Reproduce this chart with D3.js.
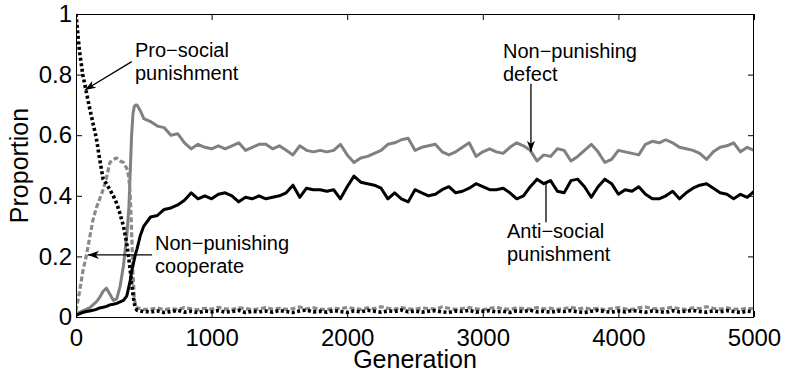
<!DOCTYPE html>
<html>
<head>
<meta charset="utf-8">
<script src="https://cdn.jsdelivr.net/npm/d3@7"></script>
<style>
body { margin: 0; background: #fff; }
svg text { font-family: "Liberation Sans", Arial, Helvetica, sans-serif; fill: #000; }
</style>
</head>
<body>
<svg width="785" height="374"></svg>
<script>
// sample generations (denser where the populations switch)
var generations = [0,25,50,75,100,125,150,175,200,225,250,275,300,325,350,375,390,400,410,420,430,440,450,475,500,
  550,600,650,700,750,800,850,900,950,1000,1050,1100,1150,1200,1250,1300,1350,1400,1450,1500,
  1550,1600,1650,1700,1750,1800,1850,1900,1950,2000,2050,2100,2150,2200,2250,2300,2350,2400,2450,2500,
  2550,2600,2650,2700,2750,2800,2850,2900,2950,3000,3050,3100,3150,3200,3250,3300,3350,3400,3450,3500,
  3550,3600,3650,3700,3750,3800,3850,3900,3950,4000,4050,4100,4150,4200,4250,4300,4350,4400,4450,4500,
  4550,4600,4650,4700,4750,4800,4850,4900,4950,5000];

var proSocial = [1.00,0.88,0.80,0.745,0.69,0.64,0.59,0.52,0.455,0.44,0.42,0.40,0.375,0.34,0.30,0.24,0.19,0.155,0.11,0.075,0.045,0.03,0.022,0.02,0.018,
  0.017,0.02,0.015,0.018,0.022,0.016,0.019,0.014,0.02,0.017,
  0.021,0.016,0.018,0.022,0.015,0.019,0.017,0.02,0.016,0.021,
  0.018,0.015,0.02,0.023,0.017,0.019,0.016,0.021,0.018,0.015,
  0.02,0.017,0.022,0.019,0.016,0.02,0.018,0.023,0.017,0.02,
  0.016,0.019,0.021,0.017,0.015,0.02,0.018,0.022,0.016,0.019,
  0.021,0.017,0.019,0.015,0.02,0.018,0.022,0.017,0.019,0.016,
  0.02,0.018,0.021,0.017,0.015,0.019,0.022,0.018,0.016,0.02,
  0.017,0.021,0.019,0.016,0.02,0.018,0.015,0.021,0.017,0.019,
  0.022,0.018,0.016,0.02,0.017,0.021,0.018,0.015,0.019,0.017];

var nonPunCooperate = [0.02,0.08,0.15,0.20,0.26,0.32,0.36,0.39,0.42,0.46,0.51,0.52,0.525,0.515,0.51,0.49,0.46,0.40,0.28,0.15,0.06,0.035,0.03,0.028,0.025,
  0.026,0.03,0.024,0.028,0.025,0.031,0.027,0.024,0.029,0.026,
  0.032,0.027,0.025,0.03,0.028,0.024,0.027,0.031,0.026,0.029,
  0.025,0.028,0.033,0.027,0.03,0.026,0.024,0.029,0.027,0.032,
  0.028,0.025,0.03,0.027,0.034,0.029,0.026,0.031,0.027,0.025,
  0.03,0.028,0.026,0.033,0.029,0.025,0.028,0.031,0.027,0.024,
  0.029,0.032,0.027,0.025,0.03,0.028,0.026,0.031,0.027,0.029,
  0.025,0.028,0.032,0.027,0.03,0.026,0.029,0.024,0.028,0.031,
  0.027,0.025,0.03,0.033,0.028,0.026,0.029,0.032,0.027,0.025,
  0.03,0.028,0.034,0.029,0.026,0.03,0.027,0.025,0.029,0.027];

var nonPunDefect = [0.01,0.015,0.02,0.025,0.03,0.04,0.05,0.065,0.085,0.095,0.075,0.055,0.06,0.10,0.17,0.27,0.36,0.48,0.60,0.67,0.695,0.70,0.70,0.68,0.655,
  0.645,0.63,0.625,0.60,0.605,0.575,0.555,0.57,0.56,0.555,
  0.565,0.555,0.565,0.575,0.55,0.56,0.57,0.57,0.555,0.565,
  0.55,0.535,0.565,0.55,0.545,0.55,0.545,0.55,0.57,0.535,
  0.51,0.525,0.53,0.54,0.55,0.57,0.575,0.585,0.59,0.55,
  0.56,0.565,0.57,0.545,0.535,0.545,0.56,0.575,0.53,0.545,
  0.555,0.545,0.54,0.56,0.575,0.565,0.55,0.515,0.535,0.53,
  0.555,0.55,0.515,0.53,0.55,0.57,0.545,0.51,0.52,0.55,
  0.545,0.54,0.535,0.57,0.58,0.575,0.585,0.575,0.56,0.555,
  0.55,0.54,0.52,0.545,0.56,0.565,0.575,0.545,0.56,0.55];

var antiSocial = [0.005,0.01,0.015,0.018,0.02,0.022,0.025,0.03,0.032,0.035,0.04,0.042,0.045,0.05,0.055,0.07,0.10,0.12,0.15,0.17,0.19,0.21,0.225,0.27,0.30,
  0.33,0.335,0.355,0.36,0.37,0.385,0.41,0.39,0.40,0.39,
  0.405,0.41,0.40,0.38,0.395,0.39,0.40,0.39,0.395,0.40,
  0.41,0.435,0.395,0.425,0.42,0.42,0.415,0.42,0.39,0.43,
  0.465,0.445,0.44,0.435,0.425,0.39,0.41,0.39,0.38,0.42,
  0.41,0.40,0.405,0.42,0.43,0.41,0.415,0.425,0.44,0.43,
  0.42,0.42,0.425,0.41,0.39,0.40,0.43,0.455,0.44,0.45,
  0.415,0.41,0.45,0.455,0.43,0.395,0.43,0.455,0.44,0.405,
  0.42,0.415,0.43,0.405,0.39,0.39,0.40,0.415,0.39,0.41,
  0.425,0.435,0.44,0.425,0.41,0.405,0.39,0.405,0.395,0.415];

var xTicks = [0,1000,2000,3000,4000,5000];
var yTicks = [0,0.2,0.4,0.6,0.8,1];

var svg = d3.select("svg"),
    pLeft = 76, pRight = 754, pTop = 14, pBottom = 317;

var x = d3.scaleLinear().domain([0,5000]).range([pLeft,pRight]);
var y = d3.scaleLinear().domain([0,1]).range([pBottom,pTop]);

var defs = svg.append("defs");
defs.append("clipPath").attr("id","plotclip")
  .append("rect").attr("x",pLeft).attr("y",pTop-2).attr("width",pRight-pLeft).attr("height",pBottom-pTop+2);

defs.append("marker")
  .attr("id","head")
  .attr("markerUnits","userSpaceOnUse")
  .attr("markerWidth",11).attr("markerHeight",8)
  .attr("refX",11).attr("refY",4)
  .attr("orient","auto")
  .append("path").attr("d","M0,0 L11,4 L0,8 L3,4 z").attr("fill","#000");

var line = d3.line()
  .x(function(d,i){ return x(generations[i]); })
  .y(function(d){ return y(d); });

// draw order: gray first, black on top
var series = [
  {values: nonPunDefect, color: "#808080", dash: null, width: 3},
  {values: nonPunCooperate, color: "#8a8a8a", dash: "5,2.5", width: 3.2},
  {values: antiSocial, color: "#000", dash: null, width: 3},
  {values: proSocial, color: "#000", dash: "3,2.5", width: 3.6}
];

var plot = svg.append("g").attr("clip-path","url(#plotclip)");
plot.selectAll("path.series")
  .data(series)
  .enter()
  .append("path")
  .attr("class","series")
  .attr("fill","none")
  .attr("stroke",function(d){ return d.color; })
  .attr("stroke-width",function(d){ return d.width; })
  .attr("stroke-dasharray",function(d){ return d.dash; })
  .attr("stroke-linejoin","round")
  .attr("d",function(d){ return line(d.values); });

// axes (MATLAB style box, inward ticks)
function styleAxis(g){
  g.select(".domain").remove();
  g.selectAll(".tick line").attr("stroke","#000").attr("stroke-width",1);
  g.selectAll("text").attr("font-size",24).attr("fill","#000");
}
svg.append("g").attr("transform","translate(0,"+pBottom+")")
  .call(d3.axisBottom(x).tickValues(xTicks).tickSize(-6).tickPadding(12).tickFormat(d3.format("d")))
  .call(styleAxis);
svg.append("g").attr("transform","translate(0,"+pTop+")")
  .call(d3.axisTop(x).tickValues(xTicks).tickSize(-6).tickFormat(""))
  .call(styleAxis);
svg.append("g").attr("transform","translate("+pLeft+",0)")
  .call(d3.axisLeft(y).tickValues(yTicks).tickSize(-6).tickPadding(4).tickFormat(d3.format("~g")))
  .call(styleAxis);
svg.append("g").attr("transform","translate("+pRight+",0)")
  .call(d3.axisRight(y).tickValues(yTicks).tickSize(-6).tickFormat(""))
  .call(styleAxis);

svg.append("rect")
  .attr("x",pLeft+0.5).attr("y",pTop+0.5)
  .attr("width",pRight-pLeft-1).attr("height",pBottom-pTop)
  .attr("fill","none").attr("stroke","#000").attr("stroke-width",1);

svg.append("text")
  .attr("x",(pLeft+pRight)/2).attr("y",368)
  .attr("text-anchor","middle").attr("font-size",25)
  .text("Generation");
svg.append("text")
  .attr("transform","translate(28,"+((pTop+pBottom)/2)+") rotate(-90)")
  .attr("text-anchor","middle").attr("font-size",25)
  .text("Proportion");

// annotations, positioned in data units
var notes = [
  {lines: ["Pro\u2212social","punishment"], tx: 435, ty: 0.858, from: [411,0.843], to: [66,0.749], head: true},
  {lines: ["Non\u2212punishing","cooperate"], tx: 583, ty: 0.221, from: [560,0.205], to: [88,0.205], head: true},
  {lines: ["Non\u2212punishing","defect"], tx: 3149, ty: 0.855, from: [3355,0.77], to: [3355,0.545], head: true},
  {lines: ["Anti\u2212social","punishment"], tx: 3178, ty: 0.26, from: [3466,0.313], to: [3466,0.449], head: false}
];

notes.forEach(function(n){
  var t = svg.append("text").attr("font-size",20).attr("x",x(n.tx)).attr("y",y(n.ty));
  n.lines.forEach(function(s,i){
    t.append("tspan").attr("x",x(n.tx)).attr("dy",i==0?0:23).text(s);
  });
  svg.append("line")
    .attr("x1",x(n.from[0])).attr("y1",y(n.from[1]))
    .attr("x2",x(n.to[0])).attr("y2",y(n.to[1]))
    .attr("stroke","#000").attr("stroke-width",1.3)
    .attr("marker-end",n.head?"url(#head)":null);
});
</script>
</body>
</html>
